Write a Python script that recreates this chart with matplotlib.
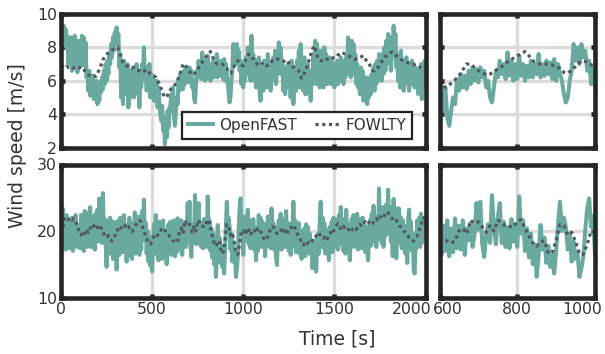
import numpy as np
import matplotlib
matplotlib.use("Agg")
import matplotlib.pyplot as plt
import matplotlib.transforms as mtransforms

# ---------------- data ----------------
# OpenFAST sampled every 5 s, FOWLTY every 10 s
time_openfast = np.arange(0, 2001, 5)
time_fowlty = np.arange(0, 2001, 10)

openfast_top = [
    7.9, 8.8, 8.4, 9.3, 8.5, 9.1, 8.0, 8.7, 7.0, 8.5,
    7.4, 8.6, 6.6, 8.0, 7.2, 8.7, 6.8, 7.9, 6.5, 8.4,
    7.0, 8.2, 6.9, 8.7, 7.2, 8.6, 6.9, 8.3, 6.2, 6.6,
    5.4, 6.6, 5.1, 6.2, 5.6, 6.3, 4.9, 5.8, 5.2, 6.0,
    4.6, 5.6, 4.8, 5.9, 5.3, 6.2, 5.5, 6.6, 5.8, 7.0,
    6.0, 7.2, 6.4, 7.5, 7.0, 8.2, 7.4, 8.6, 7.8, 8.9,
    8.2, 9.2, 8.4, 8.8, 6.8, 7.6, 5.0, 6.4, 4.6, 7.2,
    5.4, 6.8, 5.2, 7.0, 4.4, 6.2, 5.0, 6.6, 5.6, 6.8,
    5.0, 6.4, 5.6, 7.0, 5.2, 6.6, 4.4, 6.2, 5.6, 7.0,
    6.2, 8.0, 6.0, 6.8, 5.4, 6.6, 5.6, 7.0, 5.0, 6.4,
    5.2, 6.2, 4.8, 5.8, 5.0, 6.0, 4.4, 5.6, 4.6, 4.0,
    3.6, 4.5, 3.0, 3.8, 2.2, 3.2, 2.6, 4.2, 3.2, 4.4,
    4.4, 5.2, 4.2, 5.6, 3.8, 3.3, 4.2, 5.0, 4.6, 6.1,
    5.4, 6.4, 5.6, 6.3, 5.5, 6.6, 5.8, 6.8, 6.0, 6.7,
    5.9, 6.8, 6.2, 6.6, 5.6, 6.0, 5.0, 4.7, 5.6, 6.6,
    6.2, 7.2, 6.4, 7.0, 6.1, 7.7, 6.3, 7.2, 6.0, 7.0,
    6.1, 7.5, 6.3, 7.0, 6.0, 6.9, 6.2, 7.2, 6.2, 7.0,
    6.4, 7.6, 6.2, 7.0, 6.3, 7.2, 6.4, 7.1, 6.1, 7.3,
    6.0, 7.0, 6.4, 6.0, 5.2, 4.7, 5.0, 6.0, 6.6, 8.2,
    7.2, 8.0, 7.0, 8.2, 7.4, 7.8, 6.6, 7.2, 5.8, 6.8,
    5.6, 7.0, 6.0, 7.4, 6.4, 8.0, 6.6, 7.4, 6.0, 8.7,
    6.4, 7.6, 6.0, 7.2, 5.6, 6.8, 5.8, 7.4, 5.4, 4.8,
    6.0, 6.8, 5.4, 7.2, 6.0, 7.0, 5.6, 7.6, 6.2, 7.0,
    5.4, 7.0, 6.0, 7.4, 6.2, 7.8, 5.8, 7.2, 6.4, 8.3,
    6.8, 8.0, 6.4, 7.0, 5.4, 6.8, 5.2, 6.6, 5.6, 7.0,
    5.6, 6.8, 5.0, 7.2, 6.0, 4.6, 5.6, 6.6, 5.4, 7.2,
    6.2, 7.8, 5.6, 8.2, 6.4, 7.2, 5.4, 7.4, 5.2, 6.8,
    5.6, 7.0, 5.2, 6.6, 4.8, 6.2, 5.8, 7.6, 6.2, 8.4,
    5.8, 8.2, 6.4, 7.6, 5.6, 7.8, 6.0, 7.4, 5.6, 8.0,
    6.2, 7.6, 5.8, 7.0, 6.0, 7.4, 5.8, 7.2, 5.8, 6.8,
    5.6, 7.0, 6.2, 7.2, 5.8, 6.6, 6.0, 7.4, 6.2, 7.0,
    5.8, 7.2, 6.2, 7.4, 6.4, 8.6, 6.4, 7.8, 6.2, 8.4,
    6.6, 8.2, 6.4, 7.6, 5.8, 7.0, 5.6, 6.4, 5.2, 6.8,
    5.6, 6.6, 4.8, 6.0, 5.4, 6.2, 4.6, 5.8, 5.0, 6.2,
    5.2, 6.4, 5.6, 6.8, 5.4, 7.0, 5.8, 7.2, 6.0, 7.6,
    6.2, 7.4, 6.0, 7.6, 6.4, 8.0, 6.6, 8.4, 7.0, 8.8,
    7.2, 8.6, 6.6, 8.2, 7.4, 9.3, 7.6, 8.8, 6.8, 7.6,
    6.0, 7.4, 5.6, 7.8, 6.2, 7.2, 5.4, 7.0, 5.8, 7.4,
    6.0, 7.0, 5.4, 6.6, 5.8, 7.2, 6.0, 7.0, 5.6, 6.8,
    5.6, 6.6, 5.2, 6.4, 5.6, 7.0, 4.9, 6.2, 5.8, 7.2,
    6.4,
]

fowlty_top = [
    6.8, 6.85, 6.75, 6.85, 6.8, 6.8, 6.85, 6.75, 6.8, 6.85,
    6.8, 6.7, 6.75, 6.6, 6.45, 6.35, 6.3, 6.25, 6.3, 6.25,
    6.4, 6.7, 6.95, 7.25, 7.45, 7.55, 7.7, 7.8, 7.85, 7.9,
    7.95, 8.0, 7.7, 7.4, 7.1, 6.95, 6.9, 6.85, 6.8, 6.75,
    6.8, 6.7, 6.65, 6.6, 6.5, 6.55, 6.6, 6.65, 6.6, 6.4,
    6.35, 6.3, 6.2, 6.0, 5.8, 5.5, 5.2, 5.05, 5.0, 5.25,
    5.45, 5.6, 5.65, 5.85, 6.05, 6.3, 6.65, 7.0, 7.0, 6.8,
    6.6, 6.5, 6.35, 6.4, 6.55, 6.7, 6.85, 7.05, 7.2, 7.35,
    7.5, 7.6, 7.75, 7.5, 7.2, 7.05, 7.0, 7.0, 7.0, 6.95,
    6.8, 6.75, 6.5, 6.45, 6.65, 6.85, 7.1, 7.2, 7.1, 6.95,
    6.9, 7.2, 7.4, 7.6, 7.5, 7.35, 7.3, 7.1, 6.95, 6.9,
    7.0, 7.1, 7.0, 6.9, 6.95, 7.1, 7.2, 7.2, 7.3, 7.3,
    7.3, 7.25, 7.2, 7.1, 7.0, 7.1, 6.95, 6.85, 6.8, 6.75,
    6.65, 6.5, 6.15, 6.3, 6.6, 6.85, 7.2, 7.55, 7.9, 8.1,
    7.7, 7.35, 7.25, 7.2, 7.15, 7.25, 7.3, 7.3, 7.25, 7.35,
    7.4, 7.4, 7.55, 7.6, 7.7, 7.65, 7.6, 7.6, 7.5, 7.4,
    7.35, 7.3, 7.3, 7.35, 7.4, 7.45, 7.5, 7.3, 7.15, 7.05,
    6.8, 6.6, 6.6, 6.75, 6.8, 6.95, 7.15, 7.3, 7.45, 7.55,
    7.6, 7.7, 7.7, 7.65, 7.5, 7.4, 7.3, 7.25, 7.2, 7.15,
    7.1, 7.05, 7.0, 7.0, 6.95, 6.9, 6.9, 6.8, 6.75, 6.7,
    6.6,
]

openfast_bot = [
    22.6, 19.0, 23.4, 18.0, 21.8, 17.2, 22.4, 18.0, 21.2, 17.4,
    21.6, 18.2, 22.0, 17.0, 20.8, 18.6, 22.4, 17.6, 21.0, 18.2,
    20.6, 17.4, 22.4, 18.8, 21.6, 17.0, 23.0, 18.4, 21.2, 17.6,
    22.8, 18.0, 23.6, 17.6, 21.4, 18.2, 22.2, 17.2, 22.6, 18.6,
    23.2, 18.4, 24.9, 19.0, 22.6, 18.2, 25.7, 19.4, 21.8, 18.0,
    14.6, 19.6, 21.6, 16.6, 22.0, 17.4, 20.6, 15.8, 21.4, 17.2,
    19.6, 14.2, 18.0, 21.6, 16.4, 22.0, 17.6, 21.2, 16.8, 22.4,
    17.2, 21.0, 15.4, 20.4, 16.2, 22.0, 17.6, 21.2, 15.8, 20.6,
    17.4, 22.8, 16.6, 21.6, 17.8, 22.2, 16.4, 20.8, 17.2, 23.0,
    19.0, 24.7, 18.6, 21.2, 16.6, 20.0, 15.4, 19.2, 14.8, 16.2,
    13.9, 18.4, 21.0, 16.6, 22.4, 17.2, 20.4, 15.6, 21.4, 17.0,
    20.6, 15.8, 21.6, 17.4, 19.6, 16.6, 15.0, 19.0, 21.0, 17.2,
    21.4, 16.4, 20.8, 17.0, 21.6, 16.2, 20.4, 16.8, 21.9, 17.4,
    20.8, 17.2, 21.6, 16.4, 20.4, 18.6, 21.2, 17.6, 19.4, 24.2,
    20.2, 24.4, 18.0, 16.1, 19.4, 21.0, 18.2, 25.4, 20.4, 18.0,
    22.0, 24.2, 18.2, 21.4, 17.6, 20.6, 17.4, 21.8, 18.4, 20.8,
    17.6, 25.2, 19.6, 21.6, 17.0, 20.4, 16.0, 19.6, 15.0, 18.0,
    13.1, 16.4, 20.9, 17.2, 19.0, 15.2, 17.8, 14.6, 16.4, 13.6,
    17.0, 21.0, 24.4, 20.0, 22.0, 20.6, 17.2, 19.6, 15.4, 18.4,
    15.8, 16.8, 13.1, 14.4, 16.2, 20.2, 23.4, 24.9, 20.6, 22.2,
    16.4, 21.0, 18.6, 22.2, 19.0, 23.2, 18.0, 21.6, 17.4, 21.0,
    18.2, 21.8, 17.2, 20.6, 15.6, 19.2, 17.0, 22.4, 18.2, 22.0,
    17.6, 21.4, 18.4, 21.0, 16.2, 20.4, 17.8, 22.2, 18.0, 21.6,
    17.4, 23.4, 18.6, 21.2, 17.2, 20.6, 16.0, 14.9, 18.6, 21.6,
    18.0, 22.6, 17.2, 21.4, 18.4, 21.8, 17.6, 23.0, 18.6, 21.2,
    17.0, 20.8, 16.4, 21.2, 17.6, 24.4, 18.2, 21.6, 16.8, 20.4,
    17.6, 21.2, 16.6, 20.0, 15.8, 19.8, 16.8, 20.4, 16.2, 21.0,
    17.2, 20.6, 16.6, 19.6, 17.4, 18.6, 14.4, 17.8, 14.6, 18.6,
    13.9, 17.6, 19.6, 16.6, 21.6, 24.4, 18.2, 22.0, 17.4, 21.2,
    16.6, 20.2, 17.0, 19.8, 15.6, 20.6, 17.4, 21.4, 16.8, 22.0,
    17.6, 21.8, 18.2, 20.8, 17.2, 22.4, 18.0, 23.6, 18.6, 21.8,
    17.0, 21.4, 16.6, 23.2, 18.6, 21.0, 17.4, 15.6, 19.0, 21.8,
    18.0, 22.4, 17.6, 21.6, 18.4, 22.6, 17.2, 21.2, 18.2, 21.8,
    17.4, 22.0, 18.0, 21.0, 16.8, 20.6, 17.6, 15.6, 19.4, 21.6,
    17.8, 22.6, 18.4, 23.8, 19.0, 22.2, 17.6, 21.8, 18.8, 26.4,
    19.0, 22.8, 18.2, 23.6, 17.6, 22.4, 19.2, 24.0, 20.2, 26.2,
    19.6, 23.6, 18.4, 22.0, 16.2, 24.8, 17.0, 22.6, 15.9, 23.4,
    19.6, 23.4, 18.2, 22.0, 17.4, 21.6, 18.0, 20.8, 16.6, 19.8,
    15.2, 21.6, 23.2, 18.0, 21.4, 17.0, 19.6, 14.4, 13.6, 17.2,
    17.4, 21.6, 18.6, 22.0, 17.6, 22.6, 18.2, 21.4, 19.0, 21.8,
    21.2,
]

fowlty_bot = [
    21.2, 20.4, 21.8, 22.1, 21.7, 22.0, 21.6, 21.9, 21.4, 20.6,
    19.8, 19.4, 20.0, 19.6, 20.2, 19.8, 20.5, 20.2, 20.8, 20.3,
    20.6, 20.1, 20.5, 19.8, 19.4, 19.0, 19.3, 18.7, 18.5, 18.9,
    19.6, 20.2, 19.9, 20.5, 20.3, 20.8, 20.4, 20.7, 20.1, 19.9,
    20.4, 20.9, 21.2, 21.6, 21.3, 20.4, 19.6, 18.8, 18.3, 18.0,
    18.4, 19.2, 19.6, 19.3, 19.9, 20.2, 19.8, 20.1, 19.6, 19.4,
    19.0, 18.6, 18.5, 18.2, 18.5, 20.0, 20.4, 19.6, 21.6, 21.2,
    21.4, 20.6, 19.8, 20.8, 20.0, 21.6, 21.3, 20.7, 20.7, 20.6,
    21.5, 21.7, 20.4, 19.3, 18.2, 17.7, 18.4, 18.5, 16.6, 16.8,
    18.6, 21.0, 20.8, 19.4, 19.8, 18.4, 16.6, 16.5, 18.0, 20.0,
    19.8, 20.4, 19.6, 20.2, 19.4, 20.0, 19.8, 20.6, 20.2, 20.4,
    19.6, 19.0, 18.6, 18.8, 19.6, 20.3, 20.7, 20.4, 19.8, 19.5,
    19.8, 20.2, 19.7, 20.1, 19.6, 20.2, 20.6, 20.3, 20.7, 20.0,
    19.4, 18.9, 18.3, 17.9, 18.4, 18.1, 18.4, 18.8, 18.5, 18.9,
    19.3, 19.0, 19.5, 19.2, 18.9, 19.3, 18.8, 19.2, 19.8, 19.5,
    20.3, 20.8, 21.1, 20.6, 20.2, 20.7, 20.4, 20.6, 20.1, 19.8,
    20.3, 20.5, 20.2, 20.8, 21.0, 20.7, 21.2, 21.4, 21.0, 21.3,
    20.9, 21.1, 21.6, 21.9, 21.5, 22.0, 22.4, 22.1, 22.6, 22.9,
    22.5, 22.0, 21.8, 21.4, 21.6, 21.0, 20.7, 20.4, 20.0, 19.8,
    19.5, 19.0, 18.7, 18.5, 18.6, 18.9, 19.6, 20.5, 21.3, 22.0,
    21.6,
]

series_names = ["OpenFAST", "FOWLTY"]
xticks_full = [0, 500, 1000, 1500, 2000]
xticks_zoom = [600, 800, 1000]
yticks_top = [2, 4, 6, 8, 10]
yticks_bot = [10, 20, 30]

# ---------------- style ----------------
plt.rcParams["font.family"] = ["DejaVu Sans"]
TEAL = "#6aaa9e"
DARK = "#4d5862"
FRAME = "#262626"
GRID = "#dcdcdc"
TXT = "#333333"

fig = plt.figure(figsize=(6.05, 3.54), dpi=100)
W, H = 605.0, 354.0
L1, R1 = 61.0, 425.5
L2, R2 = 439.5, 595.0
T1, B1 = 14.0, 147.5
T2, B2 = 164.5, 297.5

def add_ax(l, r, t, b):
    return fig.add_axes([l / W, (H - b) / H, (r - l) / W, (b - t) / H])

ax_tl = add_ax(L1, R1, T1, B1)
ax_tr = add_ax(L2, R2, T1, B1)
ax_bl = add_ax(L1, R1, T2, B2)
ax_br = add_ax(L2, R2, T2, B2)

def style(ax, xlim, ylim, xt, yt, labx, laby):
    ax.set_xlim(xlim)
    ax.set_ylim(ylim)
    ax.set_xticks(xt)
    ax.set_yticks(yt)
    ax.grid(True, color=GRID, lw=2.4)
    ax.set_axisbelow(True)
    for s in ax.spines.values():
        s.set_linewidth(3.3)
        s.set_color(FRAME)
    ax.tick_params(direction="in", length=3.2, width=3.3, color=FRAME,
                   top=True, right=True, labelsize=11.3, pad=3,
                   labelcolor=TXT, labelbottom=labx, labelleft=laby)

for ax, of, fw, xl, yl, xt, yt, lx, ly in [
    (ax_tl, openfast_top, fowlty_top, (0, 2000), (2, 10), xticks_full, yticks_top, False, True),
    (ax_tr, openfast_top, fowlty_top, (600, 1000), (2, 10), xticks_zoom, yticks_top, False, False),
    (ax_bl, openfast_bot, fowlty_bot, (0, 2000), (10, 30), xticks_full, yticks_bot, True, True),
    (ax_br, openfast_bot, fowlty_bot, (600, 1000), (10, 30), xticks_zoom, yticks_bot, True, False),
]:
    ax.plot(time_openfast, of, color=TEAL, lw=2.9, label=series_names[0])
    ax.plot(time_fowlty, fw, color=DARK, lw=2.3, linestyle=(0, (1, 1.1)),
            dash_capstyle="butt", label=series_names[1])
    style(ax, xl, yl, xt, yt, lx, ly)

# shift the crowded edge labels inward, as in the reference
def shift_label(ax, idx, dx_px):
    lbl = ax.get_xticklabels()[idx]
    lbl.set_transform(lbl.get_transform() +
                      mtransforms.ScaledTranslation(dx_px / 100.0, 0, fig.dpi_scale_trans))

shift_label(ax_bl, -1, -14)
shift_label(ax_br, 0, 8)
shift_label(ax_br, -1, -13)

leg = ax_tl.legend(loc="lower left", bbox_to_anchor=(0.332, 0.064), ncol=2,
                   frameon=True, fancybox=False, edgecolor="#222222", framealpha=1,
                   borderaxespad=0, handlelength=1.6, handletextpad=0.4,
                   columnspacing=1.2, fontsize=11, borderpad=0.4)
leg.get_frame().set_linewidth(1.6)
for t in leg.get_texts():
    t.set_color(TXT)

fig.text(17.5 / W, 1 - 146 / H, "Wind speed [m/s]", rotation=90, ha="center",
         va="center", fontsize=13.5, color=TXT)
fig.text(337 / W, 1 - 339 / H, "Time [s]", ha="center", va="center",
         fontsize=13.5, color=TXT)

fig.savefig("out.png", dpi=100)
